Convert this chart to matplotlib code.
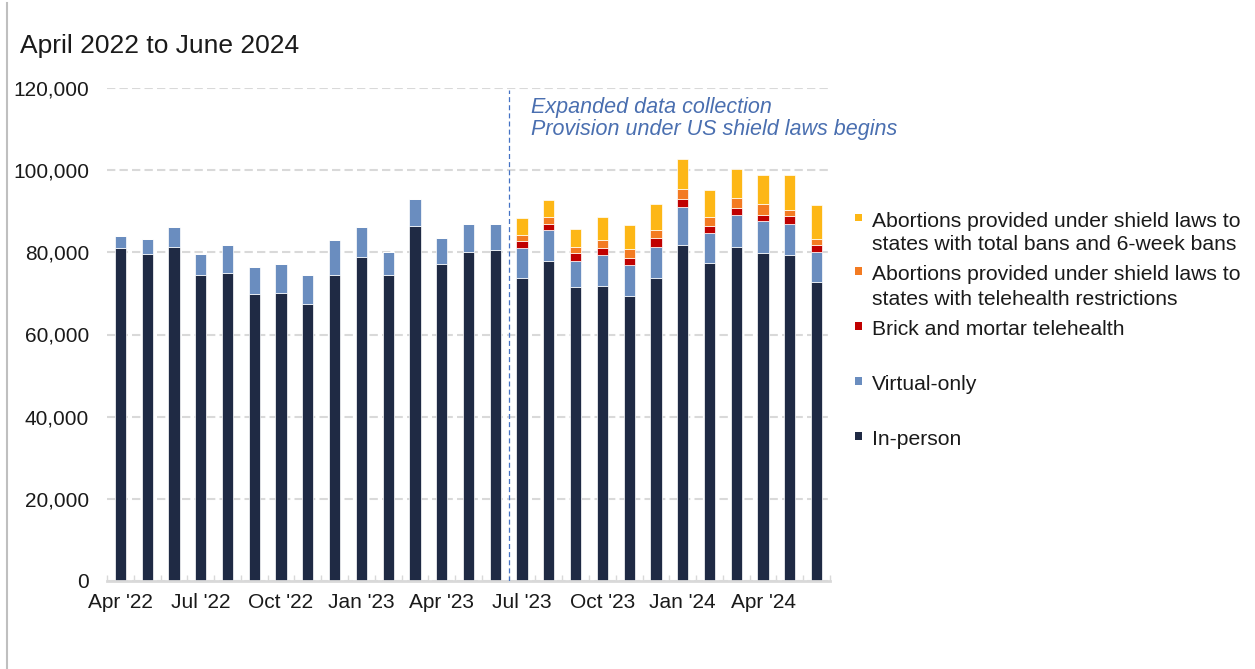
import matplotlib
matplotlib.use("Agg")
import matplotlib.pyplot as plt
import numpy as np
from matplotlib.lines import Line2D
from matplotlib.patches import Rectangle
from matplotlib.ticker import FuncFormatter, MultipleLocator

plt.rcParams["font.family"] = ["Liberation Sans", "DejaVu Sans"]

months = [
    "Apr '22", "May '22", "Jun '22", "Jul '22", "Aug '22", "Sep '22", "Oct '22",
    "Nov '22", "Dec '22", "Jan '23", "Feb '23", "Mar '23", "Apr '23", "May '23",
    "Jun '23", "Jul '23", "Aug '23", "Sep '23", "Oct '23", "Nov '23", "Dec '23",
    "Jan '24", "Feb '24", "Mar '24", "Apr '24", "May '24", "Jun '24",
]

in_person = [
    81100, 79600, 81400, 74600, 74900, 69900, 70200, 67400, 74600, 78900,
    74600, 86400, 77100, 80200, 80500, 73700, 78000, 71500, 71800, 69300,
    73700, 81800, 77400, 81400, 79900, 79300, 72700,
]
virtual_only = [
    2900, 3600, 4700, 5000, 6900, 6500, 6900, 7100, 8400, 7200,
    5600, 6600, 6500, 6800, 6500, 7400, 7500, 6500, 7600, 7500,
    7700, 9300, 7400, 7800, 7800, 7700, 7500,
]
brick_mortar = [0] * 15 + [1700, 1500, 1900, 1700, 1800, 2000, 1900, 1700, 1600, 1500, 1900, 1600]
shield_telehealth = [0] * 15 + [1400, 1700, 1500, 1900, 2200, 2100, 2500, 2200, 2500, 2500, 1500, 1500]
shield_bans = [0] * 15 + [4100, 4000, 4400, 5700, 5900, 6200, 7100, 6400, 7100, 7100, 8400, 8100]

series = [
    ("In-person", in_person, "#1f2a44"),
    ("Virtual-only", virtual_only, "#6a8dbf"),
    ("Brick and mortar telehealth", brick_mortar, "#c00000"),
    ("Abortions provided under shield laws to\nstates with telehealth restrictions", shield_telehealth, "#f37b22"),
    ("Abortions provided under shield laws to\nstates with total bans and 6-week bans", shield_bans, "#fdb716"),
]

W, H = 1255, 669
fig = plt.figure(figsize=(W / 100, H / 100), dpi=100)
ax = fig.add_axes([107 / W, 1 - 581 / H, 723 / W, 493 / H])

x = np.arange(len(months))
bottom = np.zeros(len(months))
for name, vals, color in series:
    vals = np.array(vals, dtype=float)
    ax.bar(x, vals, width=0.42, bottom=bottom, color=color,
           edgecolor="white", linewidth=0.5, zorder=3)
    bottom += vals

ax.set_xlim(-0.5, len(months) - 0.5)
ax.set_ylim(0, 120000)
ax.yaxis.set_major_locator(MultipleLocator(20000))
ax.yaxis.set_major_formatter(FuncFormatter(lambda v, p: f"{v:,.0f}"))
ax.grid(axis="y", color="#d9d9d9", linestyle=(0, (4, 2)), linewidth=1.5, zorder=0)
ax.set_axisbelow(True)

for s in ["top", "right", "left"]:
    ax.spines[s].set_visible(False)
ax.spines["bottom"].set_color("#d9d9d9")
ax.spines["bottom"].set_linewidth(2)
ax.spines["bottom"].set_zorder(4)

ax.set_xticks(x[::3])
ax.set_xticklabels(months[::3])
ax.set_xticks(np.arange(-0.5, len(months)), minor=True)
ax.tick_params(axis="x", which="major", length=0, pad=9, labelsize=15, labelcolor="#1a1a1a")
ax.tick_params(axis="x", which="minor", length=4, direction="in", color="#d9d9d9", width=1)
ax.tick_params(axis="y", length=0, pad=13, labelsize=15, labelcolor="#1a1a1a")

# start of expanded data collection
ax.vlines(14.5, 0, 119500, colors="#4472c4", linestyles=(0, (4, 2.5)), linewidth=0.9, zorder=5)
ax.text(15.32, 117900, "Expanded data collection\nProvision under US shield laws begins",
        fontsize=15.5, style="italic", color="#4a6fb0", va="top", ha="left", linespacing=1.1)

fig.text(20.5 / W, 1 - 53 / H, "April 2022 to June 2024", fontsize=19,
         color="#1a1a1a", va="baseline", ha="left")

# legend drawn by hand to match the slot layout
legend_rows = [
    (4, [226.7, 250.0]),
    (3, [280.0, 305.0]),
    (2, [335.0]),
    (1, [390.0]),
    (0, [445.0]),
]
for idx, baselines in legend_rows:
    name, _, color = series[idx]
    lines = name.split("\n")
    b0 = baselines[0]
    fig.patches.append(Rectangle((855 / W, 1 - (b0 - 5.5) / H), 7.5 / W, 7.5 / H,
                                 transform=fig.transFigure, facecolor=color,
                                 edgecolor="none"))
    for line, b in zip(lines, baselines):
        fig.text(872 / W, 1 - b / H, line, fontsize=15.2, color="#1a1a1a",
                 va="baseline", ha="left")

# thin frame line at left edge
fig.add_artist(Line2D([7 / W, 7 / W], [0, 0.995], color="#bfbfbf", linewidth=1.5))

fig.savefig("out.png", dpi=100)
